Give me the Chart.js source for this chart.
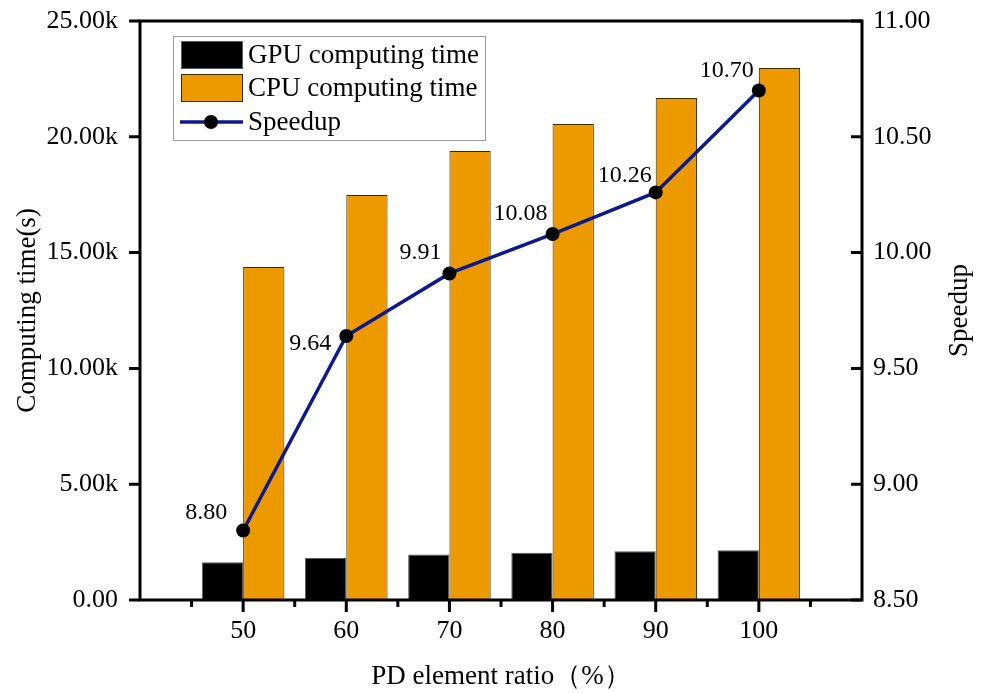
<!DOCTYPE html>
<html>
<head>
<meta charset="utf-8">
<script src="https://cdn.jsdelivr.net/npm/chart.js@4/dist/chart.umd.min.js"></script>
<style>
    html, body { margin: 0; padding: 0; background: #fff; }
    #box { width: 989px; height: 693px; }
</style>
</head>
<body>
<div id="box"><canvas id="graph"></canvas></div>
<script>
// values
let ratios = [50, 60, 70, 80, 90, 100]
let gpuTime = [1630, 1810, 1960, 2040, 2110, 2150]
let cpuTime = [14380, 17490, 19390, 20550, 21680, 22970]
let speedup = [8.80, 9.64, 9.91, 10.08, 10.26, 10.70]

// tick labels
let leftTicks = [0, 5000, 10000, 15000, 20000, 25000]
let rightTicks = [8.5, 9.0, 9.5, 10.0, 10.5, 11.0]
let minorTicks = [45, 55, 65, 75, 85, 95, 105]

let serif = '"Liberation Serif", "Times New Roman", serif'
Chart.defaults.color = '#000'
Chart.defaults.font.family = serif

// axis frame: left ticks out, right ticks in, bottom ticks out
let frame = {
    id: 'frame',
    afterDatasetsDraw(chart) {
        let ctx = chart.ctx
        let a = chart.chartArea
        let x = chart.scales.x
        ctx.save()
        ctx.strokeStyle = '#000'
        ctx.lineWidth = 3
        ctx.strokeRect(a.left, a.top, a.right - a.left, a.bottom - a.top)
        ctx.beginPath()
        leftTicks.forEach(v => {
            let y = chart.scales.y.getPixelForValue(v)
            ctx.moveTo(a.left - 11, y)
            ctx.lineTo(a.left, y)
        })
        rightTicks.forEach(v => {
            let y = chart.scales.y1.getPixelForValue(v)
            ctx.moveTo(a.right - 11, y)
            ctx.lineTo(a.right, y)
        })
        ratios.forEach(v => {
            let px = x.getPixelForValue(v)
            ctx.moveTo(px, a.bottom)
            ctx.lineTo(px, a.bottom + 12)
        })
        minorTicks.forEach(v => {
            let px = x.getPixelForValue(v)
            ctx.moveTo(px, a.bottom)
            ctx.lineTo(px, a.bottom + 7)
        })
        ctx.stroke()

        // right axis title, reading bottom to top like the left one
        ctx.font = '27px ' + serif
        ctx.fillStyle = '#000'
        ctx.textAlign = 'center'
        ctx.textBaseline = 'middle'
        ctx.translate(960, (a.top + a.bottom) / 2)
        ctx.rotate(-Math.PI / 2)
        ctx.fillText('Speedup', 0, 0)
        ctx.restore()
    }
}

// value labels next to the speedup points
let labelShift = [[-16, -18], [-15, 8], [-8, -21], [-5, -20], [-4, -17], [-5, -20]]
let pointLabels = {
    id: 'pointLabels',
    afterDraw(chart) {
        let ctx = chart.ctx
        let meta = chart.getDatasetMeta(2)
        ctx.save()
        ctx.font = '24px ' + serif
        ctx.fillStyle = '#000'
        ctx.textAlign = 'right'
        ctx.textBaseline = 'middle'
        meta.data.forEach((p, i) => {
            ctx.fillText(speedup[i].toFixed(2), p.x + labelShift[i][0], p.y + labelShift[i][1])
        })
        ctx.restore()
    }
}

// legend box inside the plot
let legendBox = {
    id: 'legendBox',
    afterDraw(chart) {
        let ctx = chart.ctx
        let a = chart.chartArea
        let left = a.left + 33
        let top = a.top + 15
        ctx.save()
        ctx.strokeStyle = '#9a9a9a'
        ctx.lineWidth = 1
        ctx.strokeRect(left + 0.5, top + 0.5, 312, 104)
        ctx.font = '27px ' + serif
        ctx.textBaseline = 'middle'
        let rows = [19, 52, 86]
        chart.data.datasets.forEach((d, i) => {
            let y = top + rows[i]
            if (d.type === 'line') {
                ctx.strokeStyle = d.borderColor
                ctx.lineWidth = 3.5
                ctx.beginPath()
                ctx.moveTo(left + 7, y)
                ctx.lineTo(left + 70, y)
                ctx.stroke()
                ctx.fillStyle = d.pointBackgroundColor
                ctx.beginPath()
                ctx.arc(left + 38, y, 7, 0, Math.PI * 2)
                ctx.fill()
            } else {
                ctx.fillStyle = d.backgroundColor
                ctx.fillRect(left + 8, y - 14, 62, 28)
                ctx.strokeStyle = d.borderColor
                ctx.lineWidth = 1
                ctx.strokeRect(left + 8.5, y - 13.5, 61, 27)
            }
            ctx.fillStyle = '#000'
            ctx.fillText(d.label, left + 75, y + 1)
        })
        ctx.restore()
    }
}

let srx = document.getElementById('graph').getContext('2d')

let graph = new Chart(srx, {
    type: 'bar',
    data: {
        datasets: [
            {
                label: 'GPU computing time',
                data: ratios.map((r, i) => ({ x: r, y: gpuTime[i] })),
                backgroundColor: '#000000',
                borderColor: '#5a5a5a',
                borderWidth: 1,
                yAxisID: 'y',
                order: 1,
            },
            {
                label: 'CPU computing time',
                data: ratios.map((r, i) => ({ x: r, y: cpuTime[i] })),
                backgroundColor: '#ED9A00',
                borderColor: '#3d2a00',
                borderWidth: 1,
                yAxisID: 'y',
                order: 1,
            },
            {
                type: 'line',
                label: 'Speedup',
                data: ratios.map((r, i) => ({ x: r, y: speedup[i] })),
                borderColor: '#0c1a8c',
                borderWidth: 3.5,
                pointRadius: 7,
                pointBackgroundColor: '#000000',
                pointBorderColor: '#000000',
                pointBorderWidth: 0,
                tension: 0,
                yAxisID: 'y1',
                order: 0,
            },
        ]
    },
    options: {
        responsive: true,
        maintainAspectRatio: false,
        animation: false,
        devicePixelRatio: 1,
        layout: { padding: { top: 21, left: 0, right: 0, bottom: 0 } },
        datasets: {
            bar: { categoryPercentage: 0.8, barPercentage: 1.0, grouped: true }
        },
        plugins: {
            legend: { display: false },
            tooltip: { enabled: false },
        },
        scales: {
            x: {
                type: 'linear',
                min: 40,
                max: 110,
                offset: false,
                grid: { display: false, drawTicks: false },
                border: { display: false },
                afterBuildTicks: s => { s.ticks = ratios.map(v => ({ value: v })) },
                ticks: { font: { size: 26 }, padding: 16, callback: v => String(v) },
                title: {
                    display: true,
                    text: 'PD element ratio（%）',
                    font: { size: 27 },
                    padding: { top: 0, bottom: 0 },
                },
                afterFit: s => { s.height = 93 },
            },
            y: {
                position: 'left',
                min: 0,
                max: 25000,
                grid: { display: false, drawTicks: false },
                border: { display: false },
                afterBuildTicks: s => { s.ticks = leftTicks.map(v => ({ value: v })) },
                ticks: {
                    font: { size: 26 },
                    padding: 22,
                    callback: v => v === 0 ? '0.00' : (v / 1000).toFixed(2) + 'k',
                },
                title: {
                    display: true,
                    text: 'Computing time(s)',
                    font: { size: 27 },
                    padding: { top: 12, bottom: 0 },
                },
                afterFit: s => { s.width = 140; s.paddingTop = 0; s.paddingBottom = 0 },
            },
            y1: {
                position: 'right',
                min: 8.5,
                max: 11.0,
                grid: { display: false, drawTicks: false },
                border: { display: false },
                afterBuildTicks: s => { s.ticks = rightTicks.map(v => ({ value: v })) },
                ticks: { font: { size: 26 }, padding: 11, callback: v => v.toFixed(2) },
                title: { display: false },
                afterFit: s => { s.width = 127; s.paddingTop = 0; s.paddingBottom = 0 },
            },
        }
    },
    plugins: [frame, pointLabels, legendBox]
})
</script>
</body>
</html>
